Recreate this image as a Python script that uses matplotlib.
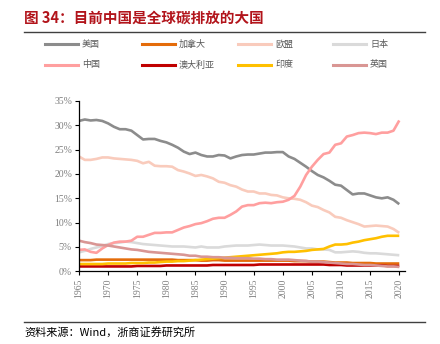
import numpy as np
import matplotlib.pyplot as plt
from matplotlib.lines import Line2D

plt.rcParams['font.family'] = ['Noto Sans CJK SC', 'DejaVu Sans']

years = np.arange(1965, 2021)

us = [30.9, 31.2, 31.0, 31.1, 30.9, 30.4, 29.7, 29.2, 29.2, 28.9,
      28.0, 27.1, 27.2, 27.2, 26.8, 26.5, 26.0, 25.4, 24.6, 24.1,
      24.4, 23.9, 23.6, 23.6, 23.9, 23.8, 23.2, 23.6, 23.9, 24.0,
      24.0, 24.2, 24.4, 24.4, 24.5, 24.5, 23.6, 23.1, 22.3, 21.5,
      20.6, 19.8, 19.3, 18.6, 17.8, 17.6, 16.7, 15.8, 16.0, 16.0,
      15.6, 15.2, 15.0, 15.2, 14.7, 13.8]
canada = [2.3, 2.3, 2.3, 2.4, 2.4, 2.4, 2.4, 2.4, 2.4, 2.4,
          2.4, 2.4, 2.4, 2.4, 2.4, 2.4, 2.4, 2.3, 2.3, 2.3,
          2.3, 2.2, 2.2, 2.3, 2.3, 2.2, 2.2, 2.2, 2.2, 2.2,
          2.2, 2.2, 2.2, 2.2, 2.2, 2.2, 2.2, 2.1, 2.1, 2.1,
          2.0, 2.0, 2.0, 1.9, 1.8, 1.8, 1.8, 1.7, 1.7, 1.7,
          1.7, 1.6, 1.6, 1.6, 1.6, 1.6]
eu = [23.6, 22.9, 22.9, 23.1, 23.4, 23.4, 23.2, 23.1, 23.0, 22.9,
      22.7, 22.2, 22.5, 21.7, 21.6, 21.6, 21.5, 20.8, 20.5, 20.1,
      19.6, 19.8, 19.5, 19.1, 18.4, 18.2, 17.7, 17.4, 16.8, 16.4,
      16.4, 16.0, 16.0, 15.7, 15.6, 15.2, 15.0, 14.9, 14.7, 14.2,
      13.5, 13.2, 12.6, 12.1, 11.2, 11.0, 10.5, 10.1, 9.7, 9.2,
      9.3, 9.4, 9.3, 9.2, 8.7, 7.9]
japan = [3.9, 4.2, 4.6, 4.9, 5.2, 5.6, 5.8, 5.9, 6.1, 6.0,
         5.8, 5.6, 5.5, 5.4, 5.3, 5.2, 5.1, 5.1, 5.1, 5.0,
         4.9, 5.1, 4.9, 4.9, 4.9, 5.1, 5.2, 5.3, 5.3, 5.3,
         5.4, 5.5, 5.4, 5.3, 5.3, 5.3, 5.2, 5.1, 4.9, 4.7,
         4.7, 4.5, 4.5, 4.4, 3.9, 3.9, 4.0, 4.1, 4.0, 3.8,
         3.7, 3.7, 3.6, 3.5, 3.4, 3.3]
china = [4.4, 4.5, 4.0, 3.8, 4.7, 5.4, 5.9, 6.1, 6.1, 6.3,
         7.1, 7.1, 7.5, 7.9, 7.9, 8.0, 8.0, 8.5, 9.0, 9.3,
         9.7, 9.9, 10.3, 10.8, 11.0, 11.0, 11.6, 12.3, 13.3, 13.6,
         13.6, 14.0, 14.1, 14.0, 14.2, 14.3, 14.7, 15.5, 17.4, 19.8,
         21.5, 22.9, 24.1, 24.4, 26.0, 26.3, 27.7, 28.0, 28.4, 28.5,
         28.4, 28.2, 28.5, 28.5, 28.9, 31.0]
australia = [1.0, 1.0, 1.0, 1.0, 1.0, 1.0, 1.0, 1.0, 1.0, 1.0,
             1.1, 1.1, 1.1, 1.1, 1.1, 1.2, 1.2, 1.2, 1.2, 1.2,
             1.2, 1.2, 1.2, 1.3, 1.3, 1.3, 1.3, 1.3, 1.3, 1.3,
             1.3, 1.4, 1.4, 1.4, 1.4, 1.4, 1.4, 1.4, 1.4, 1.4,
             1.4, 1.4, 1.4, 1.3, 1.3, 1.3, 1.2, 1.2, 1.2, 1.2,
             1.2, 1.2, 1.2, 1.1, 1.1, 1.1]
india = [1.5, 1.5, 1.5, 1.5, 1.5, 1.6, 1.6, 1.6, 1.6, 1.7,
         1.7, 1.7, 1.8, 1.8, 1.9, 2.0, 2.0, 2.1, 2.1, 2.2,
         2.3, 2.4, 2.5, 2.6, 2.7, 2.8, 2.9, 3.0, 3.1, 3.2,
         3.3, 3.4, 3.5, 3.6, 3.7, 3.9, 4.0, 4.0, 4.1, 4.2,
         4.4, 4.5, 4.6, 5.1, 5.5, 5.5, 5.6, 5.9, 6.1, 6.4,
         6.6, 6.8, 7.1, 7.3, 7.3, 7.3]
uk = [6.3, 6.0, 5.8, 5.5, 5.4, 5.3, 5.1, 4.9, 4.7, 4.5,
      4.4, 4.2, 4.0, 3.9, 3.8, 3.7, 3.6, 3.5, 3.4, 3.2,
      3.2, 3.0, 3.0, 2.9, 2.9, 2.8, 2.8, 2.7, 2.7, 2.7,
      2.6, 2.6, 2.5, 2.5, 2.4, 2.4, 2.4, 2.3, 2.2, 2.1,
      2.0, 2.0, 1.9, 1.8, 1.7, 1.6, 1.5, 1.5, 1.4, 1.3,
      1.3, 1.2, 1.1, 1.0, 1.0, 0.9]

names = ['美国', '加拿大', '欧盟', '日本', '中国', '澳大利亚', '印度', '英国']
series = [us, canada, eu, japan, china, australia, india, uk]
colors = ['#8C8C8C', '#E46C0A', '#F9CBBC', '#DADADA',
          '#FF9F9F', '#C00000', '#FFC000', '#D99694']

W, H = 440, 344
fig = plt.figure(figsize=(W / 100, H / 100), dpi=100)
ax = fig.add_axes([0.1795, 0.2113, 0.7405, 0.4951])

for vals, c in zip(series, colors):
    ax.plot(years, vals, color=c, lw=1.9, solid_capstyle='butt')

ax.set_xlim(1965, 2020.95)
ax.set_ylim(0, 35)
ax.set_xticks(np.arange(1965, 2021, 5))
ax.set_xticklabels([str(y) for y in range(1965, 2021, 5)], rotation=90,
                   fontsize=7, color='#7F7F7F', family='Liberation Serif')
ax.set_yticks(np.arange(0, 36, 5))
ax.set_yticklabels([f'{v}%' for v in range(0, 36, 5)],
                   fontsize=7, color='#7F7F7F', family='Liberation Serif')
ax.tick_params(axis='both', length=3, width=0.8, color='black', pad=2)
for side in ['top', 'right']:
    ax.spines[side].set_visible(False)
for side in ['left', 'bottom']:
    ax.spines[side].set_color('black')
    ax.spines[side].set_linewidth(0.9)

# legend: two rows of four, laid out on a fixed grid
col_x = [45, 142, 238, 333]
row_y = [44, 65]
for i, (name, c) in enumerate(zip(names, colors)):
    x0 = col_x[i % 4]
    y0 = 1 - row_y[i // 4] / H
    fig.add_artist(Line2D([x0 / W, (x0 + 33) / W], [y0, y0], color=c, lw=2.2))
    fig.text((x0 + 37) / W, y0, name, fontsize=6.5, color='#595959',
             va='center', ha='left')

fig.text(0.055, 0.948, '图 34：目前中国是全球碳排放的大国', fontsize=10.5,
         fontweight='bold', color='#B2141B', va='center')
fig.add_artist(Line2D([0.055, 0.965], [0.907, 0.907], color='#404040', lw=1.0))
fig.add_artist(Line2D([0.055, 0.965], [0.065, 0.065], color='#404040', lw=1.0))
fig.text(0.055, 0.035, '资料来源：Wind，浙商证券研究所', fontsize=8,
         color='black', va='center')

fig.savefig('out.png', dpi=100)
